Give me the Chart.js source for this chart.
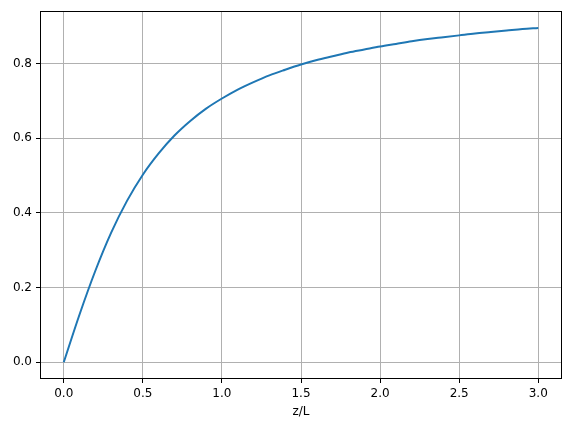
<!DOCTYPE html>
<html>
<head>
<meta charset="utf-8">
<script src="https://cdn.jsdelivr.net/npm/chart.js@4"></script>
<style>
  html, body { margin: 0; padding: 0; background: #fff; }
  #wrap { width: 570px; height: 431px; }
</style>
</head>
<body>
<div id="wrap"><canvas id="c" width="570" height="431"></canvas></div>
<script>
// Values
const zValues = [0.0, 0.1, 0.2, 0.3, 0.4, 0.5, 0.6, 0.7, 0.8, 0.9, 1.0,
                 1.1, 1.2, 1.3, 1.4, 1.5, 1.6, 1.7, 1.8, 1.9, 2.0,
                 2.1, 2.2, 2.3, 2.4, 2.5, 2.6, 2.7, 2.8, 2.9, 3.0];
const fValues = [0.000, 0.128, 0.245, 0.347, 0.432, 0.502, 0.559, 0.607, 0.646, 0.679, 0.706,
                 0.730, 0.750, 0.768, 0.783, 0.797, 0.809, 0.819, 0.829, 0.837, 0.845,
                 0.852, 0.859, 0.865, 0.870, 0.875, 0.880, 0.884, 0.888, 0.892, 0.895];
const xTicks = [0.0, 0.5, 1.0, 1.5, 2.0, 2.5, 3.0];
const yTicks = [0.0, 0.2, 0.4, 0.6, 0.8];
const xTitle = 'z/L';

const points = zValues.map((z, i) => ({ x: z, y: fValues[i] }));

const framePlugin = {
  id: 'frame',
  afterDraw(chart) {
    const { ctx, chartArea: a } = chart;
    ctx.save();
    ctx.strokeStyle = '#000';
    ctx.lineWidth = 1;
    ctx.strokeRect(Math.round(a.left) + 0.5, Math.round(a.top) + 0.5,
                   Math.round(a.right - a.left) - 1, Math.round(a.bottom - a.top) - 1);
    ctx.restore();
  }
};

const font = { family: 'DejaVu Sans', size: 12 };

new Chart(document.getElementById('c'), {
  type: 'line',
  data: {
    datasets: [{
      data: points,
      borderColor: '#1f77b4',
      borderWidth: 2,
      pointRadius: 0,
      fill: false,
      tension: 0,
      cubicInterpolationMode: 'monotone'
    }]
  },
  options: {
    responsive: false,
    animation: false,
    devicePixelRatio: 1,
    layout: { padding: { top: 9, right: 8, left: 0, bottom: 0 } },
    plugins: { legend: { display: false }, tooltip: { enabled: false } },
    scales: {
      x: {
        type: 'linear',
        min: -0.15,
        max: 3.15,
        afterBuildTicks(scale) { scale.ticks = xTicks.map(v => ({ value: v })); },
        afterFit(scale) { scale.height = 52; },
        ticks: {
          color: '#000',
          font: font,
          padding: 4,
          maxRotation: 0,
          autoSkip: false,
          callback: v => Number(v).toFixed(1)
        },
        grid: { color: '#b0b0b0', lineWidth: 1, tickColor: '#000', tickLength: 4, drawTicks: true },
        border: { display: false },
        title: { display: true, text: xTitle, color: '#000', font: font, padding: { top: 12, bottom: 12 } }
      },
      y: {
        type: 'linear',
        min: -0.0447,
        max: 0.9397,
        afterBuildTicks(scale) { scale.ticks = yTicks.map(v => ({ value: v })); },
        afterFit(scale) { scale.width = 40; },
        ticks: {
          color: '#000',
          font: font,
          padding: 4,
          autoSkip: false,
          callback: v => Number(v).toFixed(1)
        },
        grid: { color: '#b0b0b0', lineWidth: 1, tickColor: '#000', tickLength: 4, drawTicks: true },
        border: { display: false }
      }
    }
  },
  plugins: [framePlugin]
});
</script>
</body>
</html>
